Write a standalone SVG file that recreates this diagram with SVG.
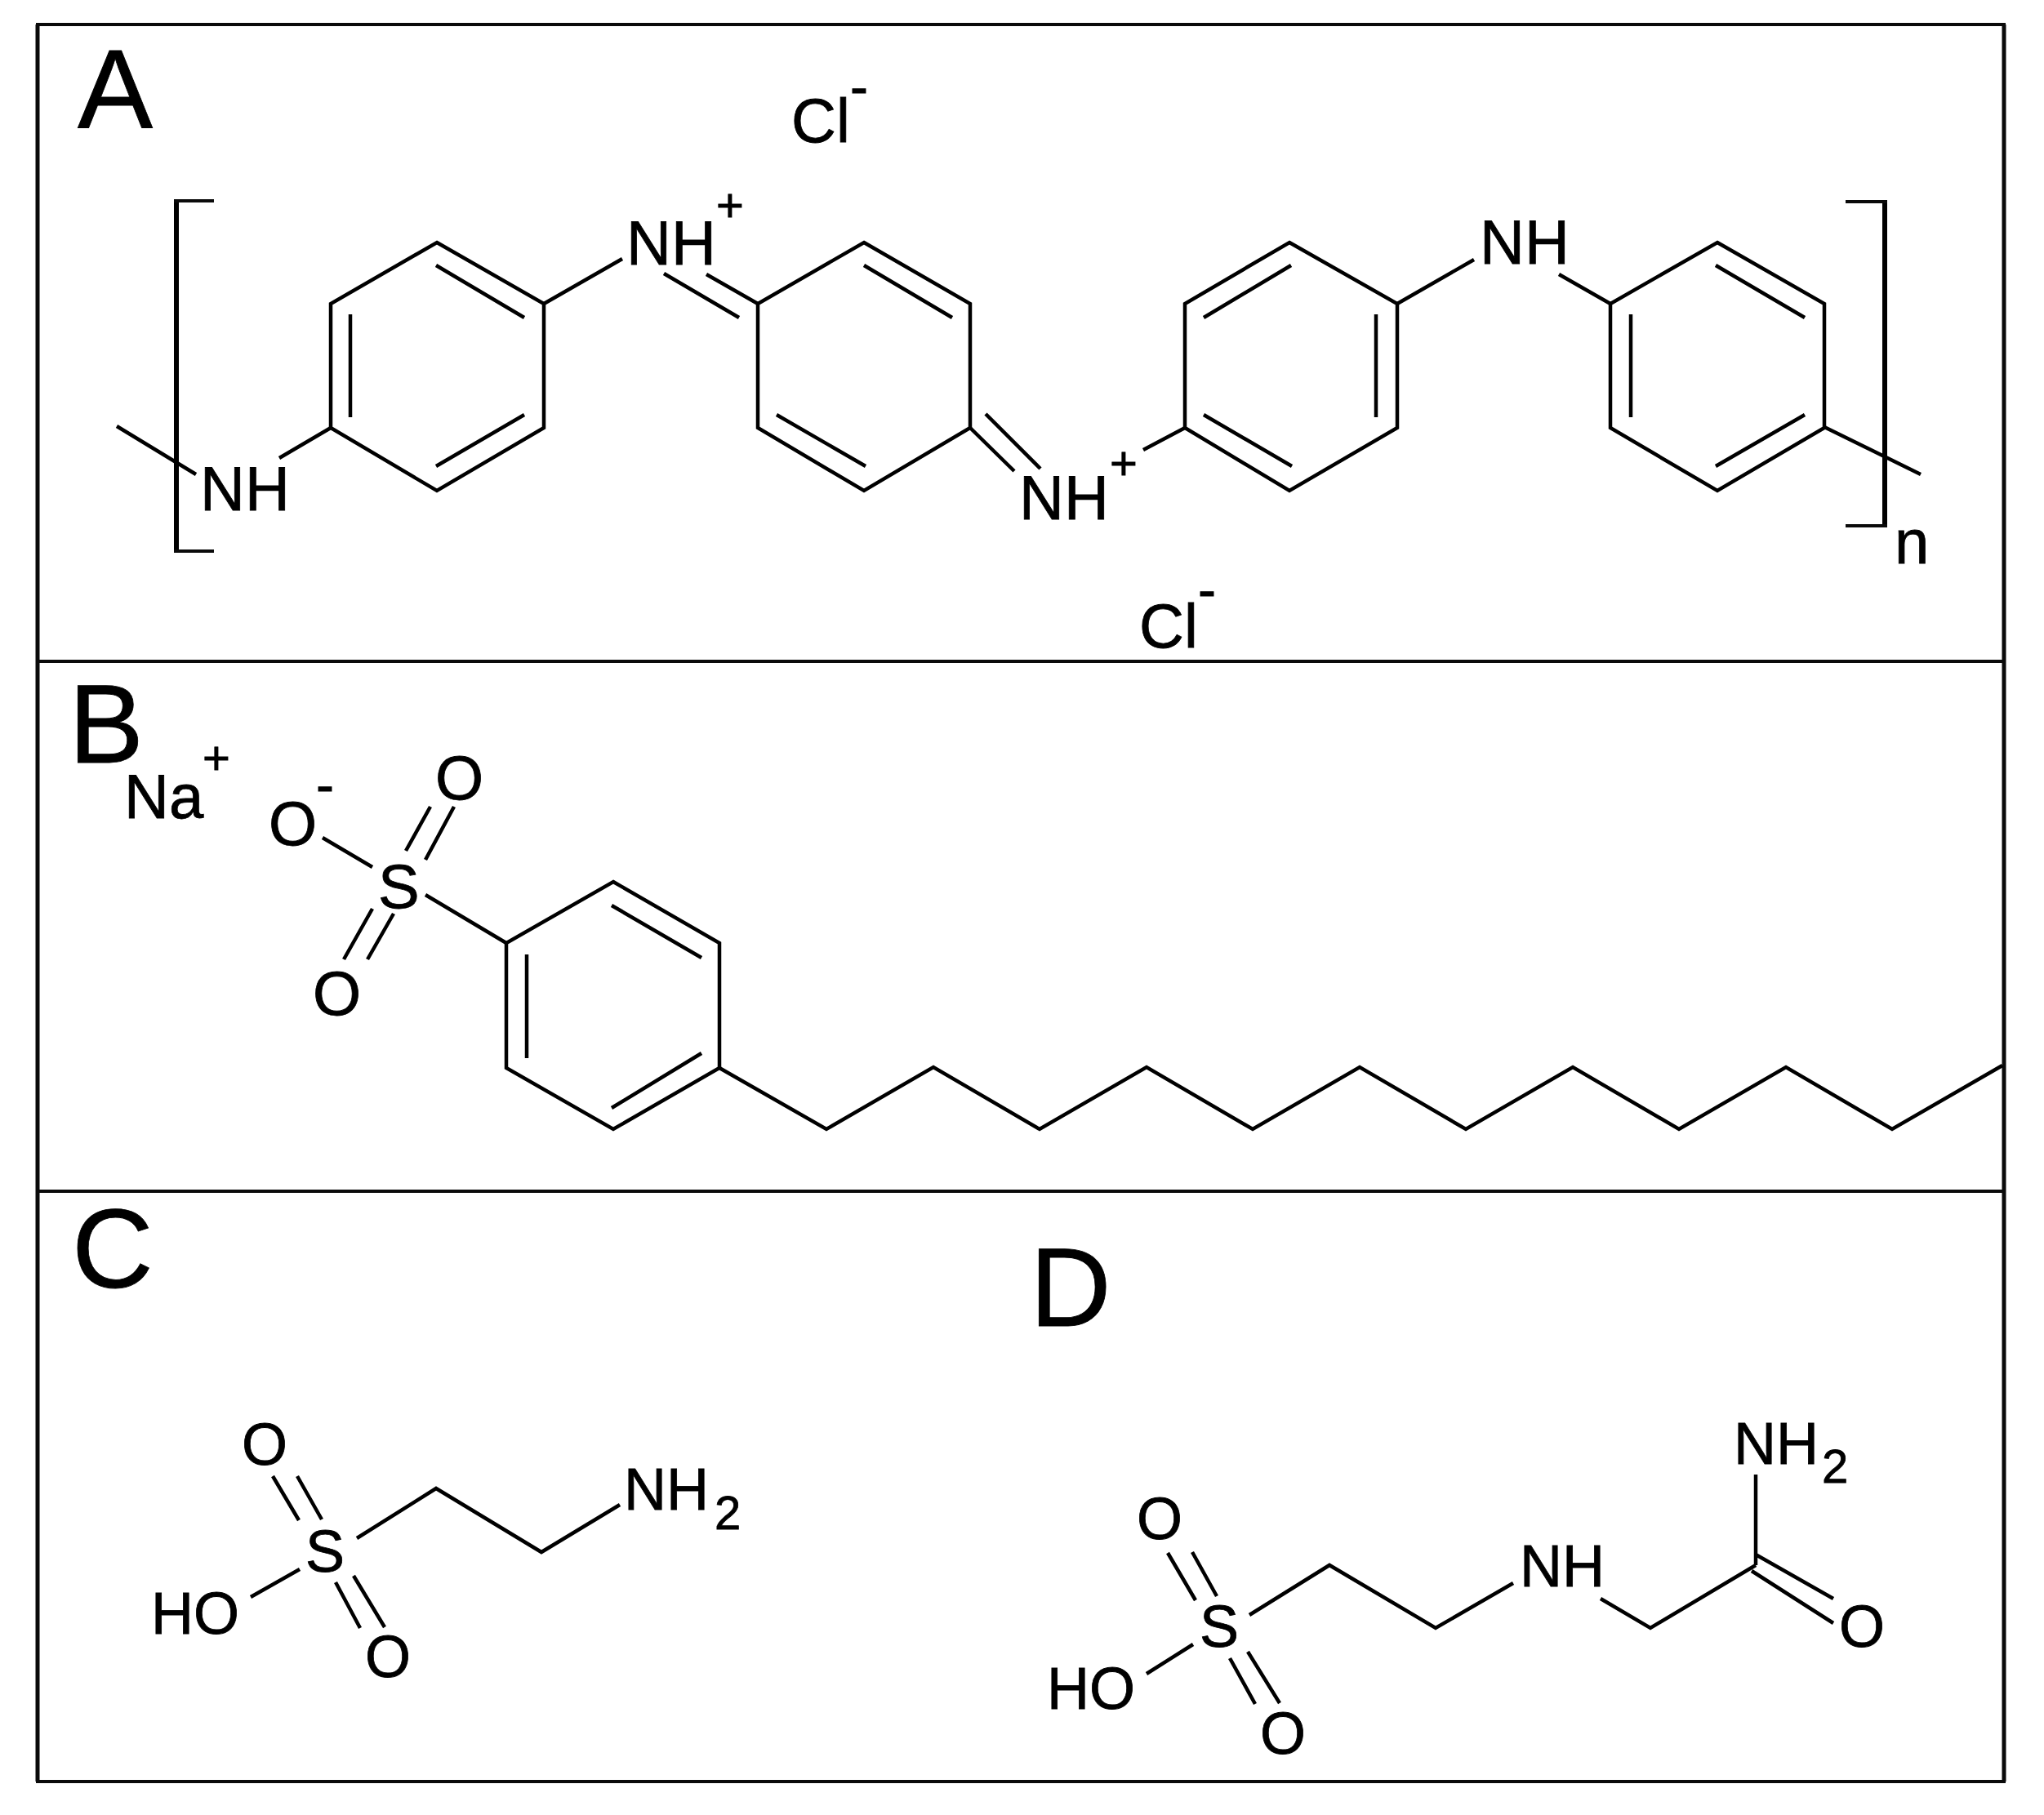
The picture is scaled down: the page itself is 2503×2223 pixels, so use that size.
<svg xmlns="http://www.w3.org/2000/svg" width="2503" height="2223" viewBox="0 0 2503 2223">
<style>
.b{fill:none;stroke:#000;stroke-width:4.5;stroke-linejoin:miter;stroke-linecap:butt}
.t{fill:none;stroke:#000;stroke-width:6}
.f{fill:none;stroke:#0a0a0a;stroke-width:5}
.l{fill:none;stroke:#0a0a0a;stroke-width:4}
text{font-family:"Liberation Sans",Arial,sans-serif;fill:#000;stroke:#000;stroke-width:.8}
.p{font-size:138px}
.a{font-size:76px}
.m{font-size:72px}
.c{font-size:58px}
.h{font-size:66px}
.s{font-size:58px}
</style>
<rect width="2503" height="2223" fill="#fff"/>
<g id="frame">
<path class="f" d="M46 30V2182M2454 30V2182"/>
<path class="l" d="M44 30H2456M44 2182H2456M46 810H2454M46 1459H2454"/>
</g>
<g id="connectors">
<g id="bonds-a">
<path class="b" d="M535 297L666 372V524L535 601L405 524V372Z"/>
<path class="b" d="M429 385V511M534 325L642 389M642 508L534 571"/>
<path class="b" d="M1058 297L1188 372V524L1058 601L928 524V372Z"/>
<path class="b" d="M1058 325L1166 389M951 508L1060 571"/>
<path class="b" d="M1579 297L1711 372V524L1579 601L1451 524V372Z"/>
<path class="b" d="M1581 325L1474 389M1685 385V511M1474 508L1582 571"/>
<path class="b" d="M2103 297L2234 372V524L2103 601L1972 524V372Z"/>
<path class="b" d="M2101 325L2210 389M1997 385V511M2210 508L2101 571"/>
<path class="b" d="M143 522L240 581M405 524L342 561M666 372L762 317M928 372L865 336M813 335L905 389M1188 524L1242 577M1207 507L1274 574M1400 551L1451 524M1711 372L1805 318M1909 336L1972 372M2234 523L2352 581"/>
<path class="t" d="M216 246V675M2308 247V644"/>
<path class="l" d="M262 246H213M213 675H262M2260 247H2311M2311 644H2260"/>
</g>
<g id="bonds-b">
<path class="b" d="M751 1080L881 1155V1308L751 1383L620 1308V1155Z"/>
<path class="b" d="M749 1109L859 1173M645 1169V1296M859 1290L749 1357"/>
<path class="b" d="M395 1026L456 1062M527 988L497 1042M556 988L521 1053M456 1113L421 1175M482 1119L450 1175M521 1096L620 1155"/>
<path class="b" d="M881 1308L1012 1383L1143 1307L1273 1383L1404 1307L1534 1383L1665 1307L1795 1383L1926 1307L2056 1383L2187 1307L2317 1383L2452 1305"/>
</g>
<g id="bonds-c">
<path class="b" d="M334 1808L366 1862M364 1808L394 1861M437 1884L534 1823L663 1901L759 1843M307 1956L367 1922M411 1938L441 1994M433 1930L471 1993"/>
</g>
<g id="bonds-d">
<path class="b" d="M2150 1806V1917M2150 1904L2245 1958M2145 1924L2245 1988M1960 1958L2021 1994L2150 1917M1530 1978L1628 1917L1758 1994L1853 1939M1430 1902L1464 1960M1460 1901L1490 1955M1404 2050L1461 2014M1506 2031L1537 2087M1528 2023L1567 2086"/>
</g>
</g>
<g id="panel-a">
<text class="p" x="95" y="157">A</text>
<text class="a" x="969" y="174">Cl</text><text class="h" x="1041" y="129">-</text>
<text class="a" x="767" y="324">NH</text><text class="c" x="877" y="271">+</text>
<text class="a" x="245" y="625">NH</text>
<text class="a" x="1248" y="636">NH</text><text class="c" x="1359" y="587">+</text>
<text class="a" x="1812" y="323">NH</text>
<text class="a" x="2320" y="690">n</text>
<text class="a" x="1395" y="793">Cl</text><text class="h" x="1467" y="745">-</text>
</g>
<g id="panel-b">
<text class="p" x="84" y="934">B</text>
<text class="a" x="152" y="1002">Na</text><text class="c" x="248" y="948">+</text>
<text class="a" x="329" y="1035">O</text><text class="h" x="387" y="984">-</text>
<text class="a" x="533" y="979">O</text>
<text class="a" x="463" y="1112">S</text>
<text class="a" x="383" y="1243">O</text>
</g>
<g id="panel-c">
<text class="p" x="88" y="1577">C</text>
<text class="m" x="296" y="1794">O</text>
<text class="m" x="374" y="1925">S</text>
<text class="m" x="185" y="2001">HO</text>
<text class="m" x="447" y="2054">O</text>
<text class="m" x="764" y="1849">NH</text><text class="s" x="875" y="1873">2</text>
</g>
<g id="panel-d">
<text class="p" x="1261" y="1624">D</text>
<text class="m" x="2123" y="1793">NH</text><text class="s" x="2231" y="1816">2</text>
<text class="m" x="1861" y="1943">NH</text>
<text class="m" x="2252" y="2017">O</text>
<text class="m" x="1469" y="2017">S</text>
<text class="m" x="1392" y="1885">O</text>
<text class="m" x="1282" y="2093">HO</text>
<text class="m" x="1543" y="2148">O</text>
</g>
</svg>
